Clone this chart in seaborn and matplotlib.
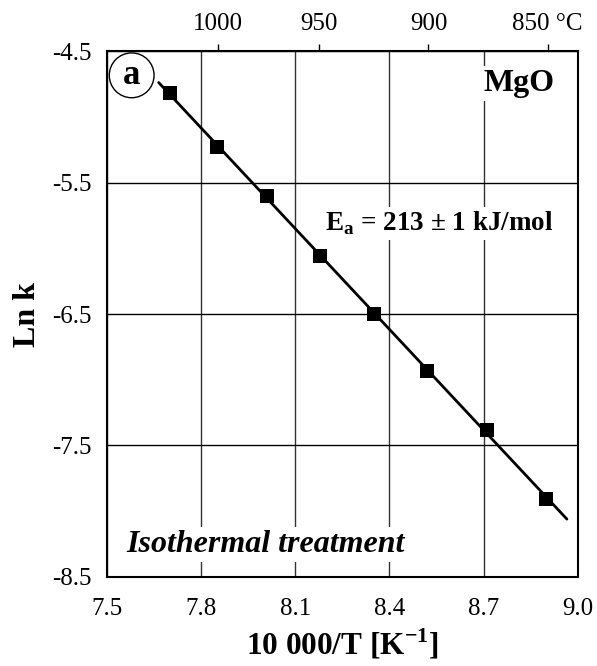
import numpy as np
import seaborn as sns
import matplotlib
matplotlib.use("Agg")
import matplotlib.pyplot as plt

# inverse temperature (10000/T) and ln k
inv_t = [7.70, 7.85, 8.01, 8.18, 8.35, 8.52, 8.71, 8.90]
ln_k = [-4.82, -5.23, -5.60, -6.06, -6.50, -6.93, -7.38, -7.91]
temp_ticks = [1000, 950, 900, 850]
temp_labels = ["1000", "950", "900", "850 °C"]
x_ticks = [7.5, 7.8, 8.1, 8.4, 8.7, 9.0]
y_ticks = [-4.5, -5.5, -6.5, -7.5, -8.5]

sns.set_style("white")
plt.rcParams['font.family'] = ['Liberation Serif', 'DejaVu Serif']
plt.rcParams['mathtext.fontset'] = 'custom'
plt.rcParams['mathtext.rm'] = 'Liberation Serif'
plt.rcParams['mathtext.bf'] = 'Liberation Serif:bold'
for key in ['text.color', 'axes.labelcolor', 'xtick.color', 'ytick.color']:
    plt.rcParams[key] = 'black'

fig, ax = plt.subplots(figsize=(5.97, 6.66), dpi=100)
fig.subplots_adjust(left=0.179, right=0.968, top=0.923, bottom=0.134)

# linear fit of the Arrhenius data
slope, icpt = np.polyfit(inv_t, ln_k, 1)
x_fit = np.array([7.665, 8.965])
sns.lineplot(x=x_fit, y=slope * x_fit + icpt, color="black", lw=2, ax=ax, zorder=3)
sns.scatterplot(x=inv_t, y=ln_k, marker="s", s=90, color="black",
                edgecolor="black", linewidth=0, ax=ax, zorder=4)

ax.set_xlim(7.5, 9.0)
ax.set_ylim(-8.5, -4.5)
ax.set_xticks(x_ticks)
ax.set_xticklabels([f"{v:.1f}" for v in x_ticks])
ax.set_yticks(y_ticks)
ax.set_yticklabels([f"{v:.1f}" for v in y_ticks])
ax.tick_params(axis="x", length=0, pad=15, labelsize=18)
ax.tick_params(axis="y", length=0, pad=11, labelsize=18)
ax.grid(True, color="#333333", lw=1)
ax.grid(True, axis="y", color="black", lw=1)
for s in ax.spines.values():
    s.set_color("black")
    s.set_linewidth(1.5)

ax.set_xlabel("10 000/T [K$^{\\mathbf{-1}}$]", fontsize=22.5, fontweight="bold", labelpad=5)
ax.set_ylabel("Ln k", fontsize=23, fontweight="bold", labelpad=7)

# temperature axis on top
top = ax.secondary_xaxis("top", functions=(lambda x: 10000 / np.asarray(x, float) - 273.15,
                                           lambda t: 10000 / (np.asarray(t, float) + 273.15)))
top.set_xticks(temp_ticks)
top.set_xticklabels(temp_labels)
top.tick_params(length=5, width=1, direction="out", pad=7, labelsize=18, colors="black")
top.spines["top"].set_visible(False)

box = dict(facecolor="white", edgecolor="none", pad=2)
ax.text(8.812, -4.743, "MgO", fontsize=23, fontweight="bold", ha="center", va="center",
        bbox=box, zorder=5)
ax.text(8.559, -5.808, "E$_\\mathbf{a}$ = 213 ± 1 kJ/mol", fontsize=19.5, fontweight="bold",
        ha="center", va="center", bbox=box, zorder=5)
ax.text(8.006, -8.257, "Isothermal treatment", fontsize=23, fontweight="bold",
        style="italic", ha="center", va="center", bbox=box, zorder=5)
ax.text(7.579, -4.683, "a", fontsize=25, fontweight="bold", ha="center", va="center",
        bbox=dict(boxstyle="circle,pad=0.17", facecolor="white", edgecolor="black", lw=1),
        zorder=6)

fig.savefig("out.png", dpi=100)
